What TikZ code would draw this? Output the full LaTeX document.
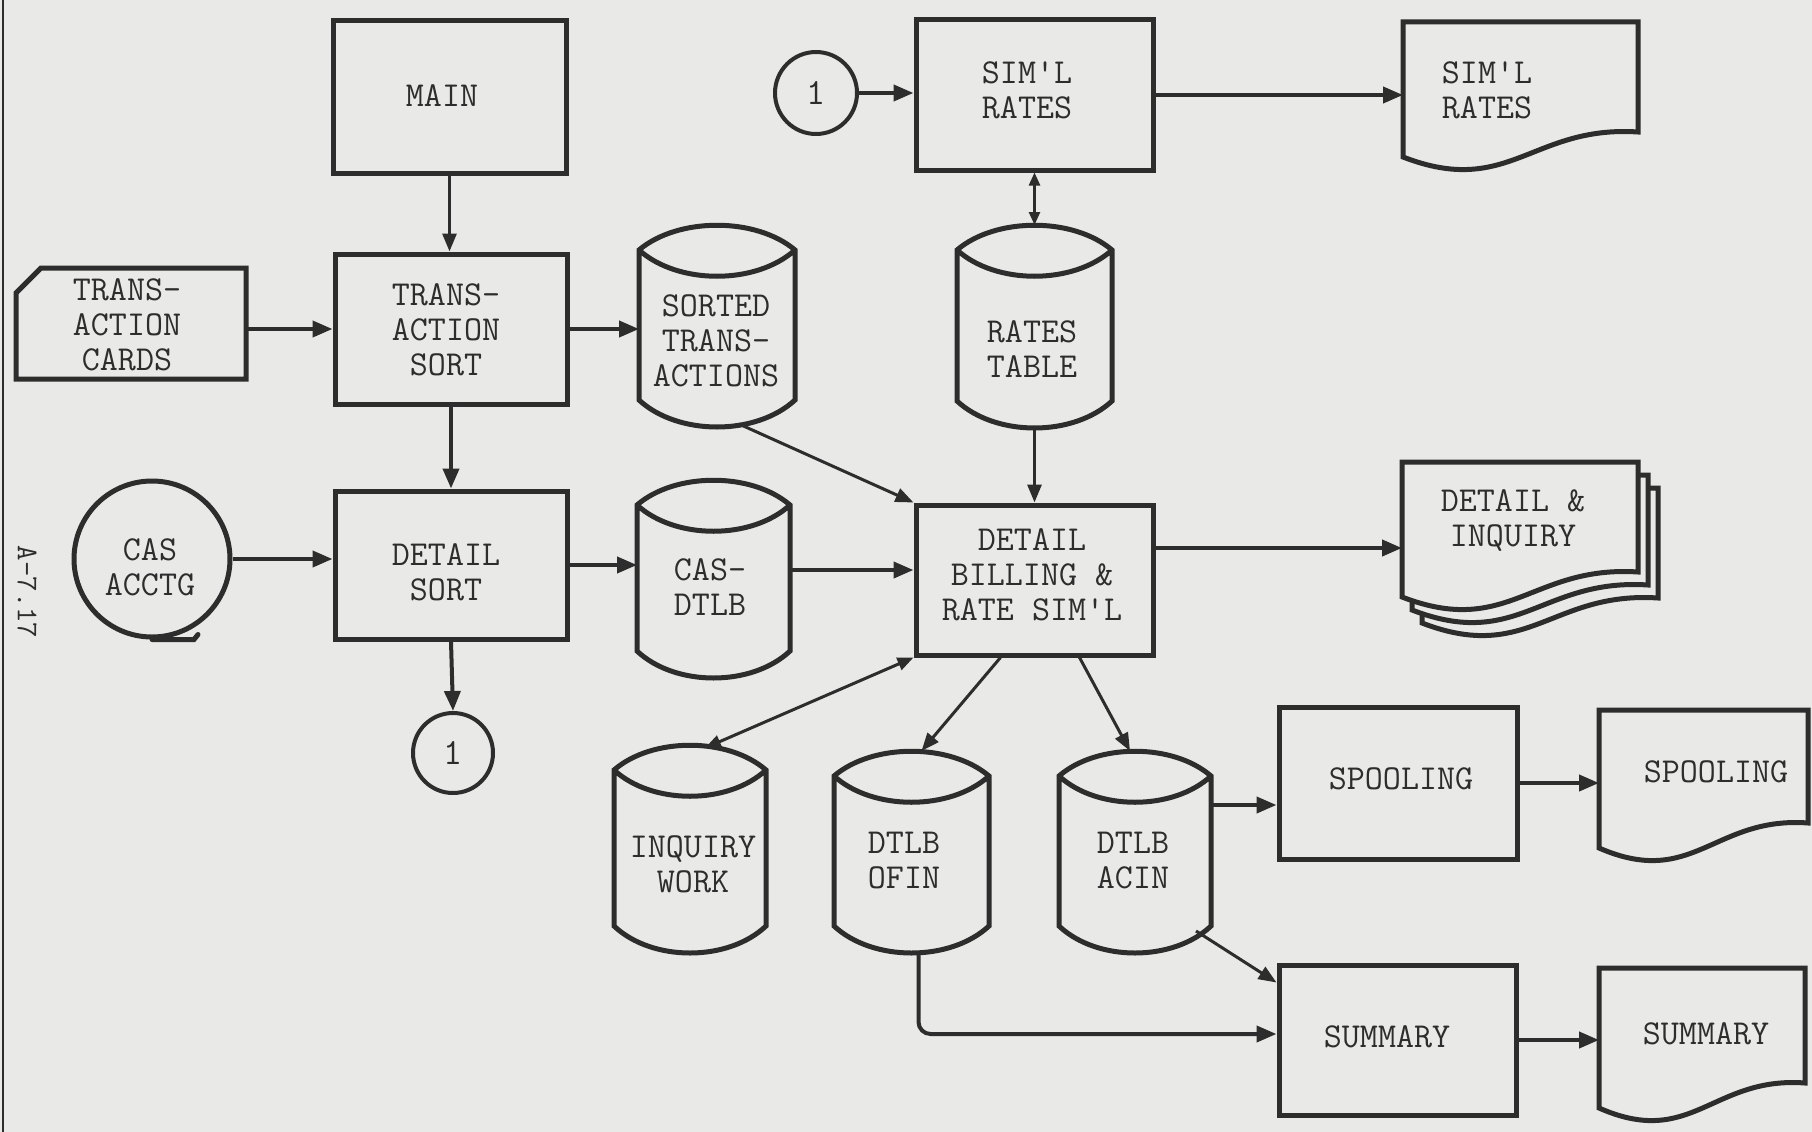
\documentclass[tikz,border=0pt]{standalone}
\usepackage{fontspec}
\usetikzlibrary{arrows.meta,calc}
\definecolor{bg}{RGB}{233,233,231}
\definecolor{ink}{RGB}{45,45,45}
\definecolor{txtc}{RGB}{45,45,45}
\tikzset{
  shp/.style={draw=ink, line width=5pt},
  geo/.style={draw=none, inner sep=0pt, outer sep=0pt, rectangle},
  box/.style={draw=ink, line width=5pt, inner sep=0pt, outer sep=2.5pt, rectangle},
  conn/.style={draw=ink, line width=4pt, circle, inner sep=0pt, outer sep=2pt, font=\ttfamily\fontsize{37}{37}\selectfont, text=txtc},
  lbl/.style={font=\ttfamily\fontsize{35}{35}\selectfont, text=txtc, align=center, inner sep=0pt},
  arr/.style={draw=ink, line width=4pt, -{Triangle[length=20pt,width=16pt]}},
  tarr/.style={draw=ink, line width=3pt, -{Triangle[length=18pt,width=14pt]}},
  darr/.style={draw=ink, line width=3pt, {Triangle[length=16pt,width=13pt]}-{Triangle[length=16pt,width=13pt]}},
}
\newcommand\drawcyl[1]{%
  \draw[shp] let \p1=(#1.north west), \p2=(#1.south east), \n1={\x2-\x1} in
    (\x1,\y2+27pt) -- (\x1,\y1-25pt)
    .. controls ({\x1+0.25*\n1},\y1+8pt) and ({\x2-0.25*\n1},\y1+8pt) .. (\x2,\y1-25pt)
    -- (\x2,\y2+27pt)
    .. controls ({\x2-0.25*\n1},\y2-9pt) and ({\x1+0.25*\n1},\y2-9pt) .. cycle
    (\x1,\y1-25pt) .. controls ({\x1+0.25*\n1},\y1-60pt) and ({\x2-0.25*\n1},\y1-60pt) .. (\x2,\y1-25pt);}
\newcommand\drawdoc[1]{%
  \draw[shp, fill=bg] let \p1=(#1.north west), \p2=(#1.south east), \n1={\x2-\x1} in
    (\x1,\y2+13pt) -- (\x1,\y1) -- (\x2,\y1) -- (\x2,\y2+38pt)
    .. controls ({\x1+0.55*\n1},\y2+45pt) and ({\x1+0.45*\n1},\y2-28pt) .. cycle;}
\begin{document}
\begin{tikzpicture}[x=1pt,y=-1pt]
\fill[bg] (0,0) rectangle (1812,1132);
\useasboundingbox (0,0) rectangle (1812,1132);
% page frame line
\draw[ink, line width=2.5pt] (3,0) -- (3,1132);
\node[lbl, rotate=-90, font=\ttfamily\fontsize{30}{30}\selectfont] (pg) at (27,592) {A-7.17};

% process boxes
\node[box, minimum width=233pt, minimum height=152pt] (main) at (449.5,97) {};
\node[box, minimum width=232pt, minimum height=150pt] (tsort) at (451,329) {};
\node[box, minimum width=232pt, minimum height=148pt] (dsort) at (451,565) {};
\node[box, minimum width=237pt, minimum height=150pt] (simbox) at (1034.5,95) {};
\node[box, minimum width=237pt, minimum height=150pt] (dbill) at (1034.5,580) {};
\node[box, minimum width=238pt, minimum height=152pt] (spbox) at (1398,783) {};
\node[box, minimum width=237pt, minimum height=150pt] (sumbox) at (1397.5,1040) {};

% card
\node[geo, minimum width=230pt, minimum height=111pt] (card) at (131,323.5) {};
\draw[shp] ([yshift=-25pt]card.north west) -- ([xshift=25pt]card.north west) -- (card.north east) -- (card.south east) -- (card.south west) -- cycle;

% tape
\node[circle, draw=ink, line width=5pt, minimum size=156pt, inner sep=0pt, outer sep=2.5pt] (cas) at (152,559) {};
\draw[shp, line cap=round] (cas.south) -- ++(42pt,0pt) -- ++(4pt,5pt);

% connectors
\node[conn, minimum size=80pt] (conb) at (453,753) {1};
\node[conn, minimum size=82pt] (cont) at (816,93) {1};

% cylinders
\node[geo, minimum width=156pt, minimum height=202pt] (sorted) at (717,326) {};
\node[geo, minimum width=153pt, minimum height=198pt] (casdtlb) at (713.5,579) {};
\node[geo, minimum width=155pt, minimum height=203pt] (rates) at (1034.5,326.5) {};
\node[geo, minimum width=152pt, minimum height=208pt] (inqwork) at (690,849) {};
\node[geo, minimum width=155pt, minimum height=202pt] (ofin) at (911.5,852) {};
\node[geo, minimum width=152pt, minimum height=202pt] (acin) at (1135,852) {};
\drawcyl{sorted}
\drawcyl{casdtlb}
\drawcyl{rates}
\drawcyl{inqwork}
\drawcyl{ofin}
\drawcyl{acin}

% documents
\node[geo, minimum width=235pt, minimum height=148pt] (simdoc) at (1520.5,96) {};
\node[geo, minimum width=236pt, minimum height=148pt] (dinqc) at (1540,562) {};
\node[geo, minimum width=236pt, minimum height=148pt] (dinqb) at (1530,549) {};
\node[geo, minimum width=236pt, minimum height=148pt] (dinq) at (1520,536) {};
\node[geo, minimum width=209pt, minimum height=151pt] (spdoc) at (1703.5,785.5) {};
\node[geo, minimum width=206pt, minimum height=153pt] (sumdoc) at (1702,1044.5) {};
\drawdoc{simdoc}
\drawdoc{dinqc}
\drawdoc{dinqb}
\drawdoc{dinq}
\drawdoc{spdoc}
\drawdoc{sumdoc}

% texts
\node[lbl] (t-main) at (442,96) {MAIN};
\node[lbl] (t-tsort) at (446,330) {TRANS-\\ACTION\\SORT};
\node[lbl] (t-card) at (127,325) {TRANS-\\ACTION\\CARDS};
\node[lbl] (t-sorted) at (716,341) {SORTED\\TRANS-\\ACTIONS};
\node[lbl] (t-dsort) at (446,572) {DETAIL\\SORT};
\node[lbl] (t-cas) at (150,567) {CAS\\ACCTG};
\node[lbl] (t-casdtlb) at (710,587) {CAS-\\DTLB};
\node[lbl] (t-simbox) at (1027,90) {SIM'L\\RATES};
\node[lbl] (t-simdoc) at (1487,90) {SIM'L\\RATES};
\node[lbl] (t-rates) at (1032,349) {RATES\\TABLE};
\node[lbl] (t-dbill) at (1032,575) {DETAIL\\BILLING \&\\RATE SIM'L};
\node[lbl] (t-dinq) at (1513,520) {DETAIL \&\\INQUIRY};
\node[lbl] (t-inq) at (693,864) {INQUIRY\\WORK};
\node[lbl] (t-ofin) at (904,861) {DTLB\\OFIN};
\node[lbl] (t-acin) at (1133,861) {DTLB\\ACIN};
\node[lbl] (t-spbox) at (1401,779) {SPOOLING};
\node[lbl] (t-spdoc) at (1716,772) {SPOOLING};
\node[lbl] (t-sumbox) at (1387,1037) {SUMMARY};
\node[lbl] (t-sumdoc) at (1706,1034) {SUMMARY};

% connectors / arrows
\draw[arr] (card.east |- tsort.west) -- (tsort.west);
\draw[tarr] (main.south) -- (main.south |- tsort.north);
\draw[arr] (tsort.east) -- (tsort.east -| sorted.west);
\draw[arr] (tsort.south) -- (tsort.south |- dsort.north);
\draw[arr] (cas.east) -- (cas.east -| dsort.west);
\draw[arr] (dsort.east) -- (dsort.east -| casdtlb.west);
\draw[arr] (dsort.south) -- (conb.north);
\draw[arr] (cont.east) -- (cont.east -| simbox.west);
\draw[arr] (simbox.east) -- (simbox.east -| simdoc.west);
\draw[line width=2.5pt, draw=ink, {Triangle[length=13pt,width=11pt]}-{Triangle[length=13pt,width=11pt]}] (simbox.south) -- (simbox.south |- rates.north);
\draw[tarr] (rates.south) -- (rates.south |- dbill.north);
\draw[tarr] ([xshift=22pt,yshift=3pt]sorted.south) -- (dbill.north west);
\coordinate (p13) at ([yshift=9pt]casdtlb.east);
\draw[arr] (p13) -- (p13 -| dbill.west);
\coordinate (p14) at ([yshift=-12pt]dinq.west);
\draw[arr] (p14 -| dbill.east) -- (p14);
\draw[darr] (dbill.south west) -- ([xshift=15pt,yshift=-3pt]inqwork.north);
\draw[tarr] ([xshift=-34pt]dbill.south) -- ([xshift=10pt]ofin.north);
\draw[tarr] ([xshift=45pt]dbill.south) -- ([xshift=-5pt]acin.north);
\coordinate (p18) at ([yshift=47pt]acin.east);
\draw[arr] (p18) -- (p18 -| spbox.west);
\draw[arr] (spbox.east) -- (spbox.east -| spdoc.west);
\draw[tarr] ([xshift=-15pt,yshift=22pt]acin.south east) -- ([yshift=-20pt]sumbox.north west);
\draw[arr, rounded corners=12pt] ([xshift=7pt]ofin.south) |- ([yshift=6pt]sumbox.west);
\draw[arr] (sumbox.east) -- (sumbox.east -| sumdoc.west);
\end{tikzpicture}
\end{document}
